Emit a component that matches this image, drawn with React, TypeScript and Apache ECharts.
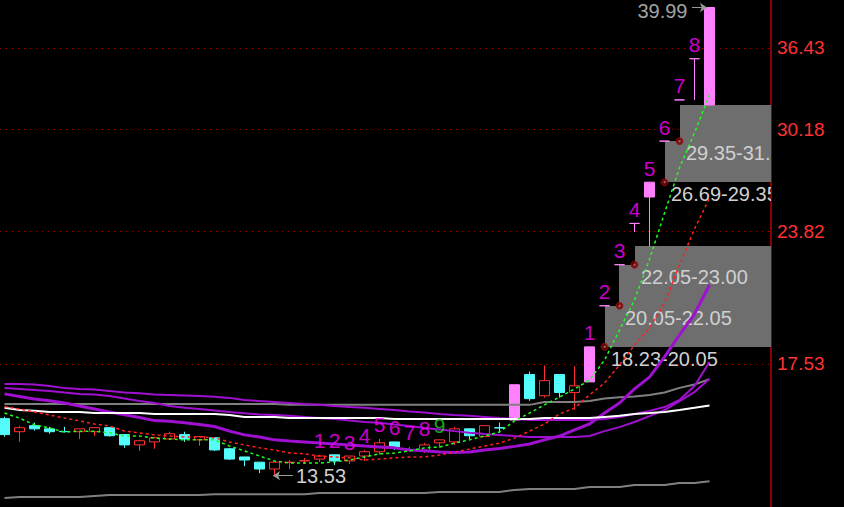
import React, { useEffect, useRef } from 'react';
import * as echarts from 'echarts';

// [open, close, low, high] per trading day
const candles: number[][] = [
  [15.44, 14.88, 14.81, 15.51], [14.98, 15.12, 14.63, 15.19], [15.19, 15.08, 15.02, 15.3],
  [15.08, 14.98, 14.91, 15.15], [14.99, 14.98, 14.95, 15.15], [14.98, 15.08, 14.73, 15.08],
  [14.98, 15.12, 14.84, 15.12], [15.12, 14.84, 14.81, 15.14], [14.88, 14.53, 14.43, 14.88],
  [14.53, 14.67, 14.33, 14.7], [14.63, 14.77, 14.4, 14.81], [14.73, 14.91, 14.7, 14.98],
  [14.88, 14.73, 14.63, 14.98], [14.7, 14.81, 14.5, 14.83], [14.77, 14.36, 14.33, 14.77],
  [14.4, 14.06, 14.03, 14.43], [14.13, 14.03, 13.83, 14.13], [13.96, 13.74, 13.61, 13.96],
  [13.74, 13.96, 13.53, 13.96], [13.95, 13.96, 13.74, 14.03], [14.0, 14.01, 13.9, 14.1],
  [14.06, 14.16, 13.96, 14.2], [14.2, 14.0, 13.87, 14.2], [14.0, 14.16, 13.9, 14.16],
  [14.16, 14.3, 14.0, 14.36], [14.3, 14.6, 14.2, 14.73], [14.63, 14.46, 14.36, 14.63],
  [14.36, 14.37, 14.3, 14.46], [14.33, 14.53, 14.26, 14.6], [14.6, 14.7, 14.43, 14.7],
  [14.63, 15.08, 14.53, 15.15], [15.08, 14.84, 14.73, 15.08], [14.81, 15.19, 14.81, 15.19],
  [15.12, 15.11, 14.95, 15.3], [15.39, 16.7, 15.39, 16.7], [17.1, 16.17, 16.09, 17.22],
  [16.28, 16.86, 16.21, 17.46], [17.1, 16.4, 16.21, 17.1], [16.4, 16.66, 15.76, 17.42],
  [16.81, 18.23, 16.81, 18.23], [20.05, 20.05, 20.05, 20.05], [22.05, 22.05, 22.05, 22.05],
  [24.26, 24.26, 23.78, 24.26], [25.79, 26.69, 23.0, 26.69], [29.35, 29.35, 29.35, 29.35],
  [32.29, 32.29, 32.29, 32.29], [35.52, 35.52, 32.29, 35.52], [31.91, 39.99, 31.91, 39.99],
];
const limitUpDays = [34, 39, 40, 41, 42, 43, 44, 45, 46, 47];

const ma5 = [15.64, 15.46, 15.22, 15.11, 14.97, 15.0, 15.0, 14.94, 14.83, 14.83, 14.76, 14.73, 14.7, 14.7, 14.7, 14.49, 14.33, 14.16, 14.0, 13.93, 13.93, 13.93, 13.97, 14.03, 14.13, 14.23, 14.26, 14.33, 14.43, 14.46, 14.59, 14.7, 14.83, 14.97, 15.36, 15.64, 15.94, 16.23, 16.54, 16.88, 17.68, 18.96, 20.32, 22.33, 24.85, 27.59, 29.92, 32.67];
const ma10 = [15.88, 15.79, 15.68, 15.57, 15.46, 15.36, 15.25, 15.18, 15.0, 14.94, 14.87, 14.83, 14.8, 14.8, 14.77, 14.63, 14.53, 14.43, 14.36, 14.26, 14.23, 14.16, 14.13, 14.1, 14.03, 14.06, 14.1, 14.13, 14.13, 14.19, 14.29, 14.39, 14.49, 14.59, 14.76, 15.0, 15.25, 15.61, 15.82, 16.31, 16.77, 17.48, 18.31, 19.04, 20.18, 22.03, 23.95, 25.73];
const whiteLine = [15.83, 15.75, 15.72, 15.68, 15.68, 15.68, 15.64, 15.64, 15.64, 15.64, 15.61, 15.61, 15.61, 15.61, 15.61, 15.57, 15.5, 15.5, 15.5, 15.46, 15.46, 15.46, 15.46, 15.46, 15.46, 15.46, 15.43, 15.43, 15.43, 15.43, 15.43, 15.43, 15.43, 15.43, 15.43, 15.43, 15.46, 15.46, 15.46, 15.46, 15.5, 15.54, 15.61, 15.64, 15.68, 15.75, 15.83, 15.92];
const grayUpper = [15.97, 15.97, 15.97, 15.97, 15.97, 15.97, 15.97, 15.97, 15.97, 15.97, 15.97, 15.97, 15.97, 15.97, 15.97, 15.97, 15.97, 15.97, 15.97, 15.94, 15.94, 15.94, 15.94, 15.94, 15.94, 15.94, 15.94, 15.94, 15.94, 15.94, 15.94, 15.94, 15.94, 15.94, 15.94, 15.94, 16.05, 16.05, 16.05, 16.08, 16.18, 16.22, 16.25, 16.31, 16.4, 16.58, 16.71, 16.92];
const grayLower = [12.85, 12.88, 12.88, 12.88, 12.88, 12.88, 12.91, 12.94, 12.94, 12.94, 12.94, 12.94, 12.94, 12.94, 12.96, 12.96, 12.96, 12.96, 12.96, 12.96, 12.96, 13.0, 13.0, 13.0, 13.0, 13.0, 13.0, 13.0, 13.0, 13.03, 13.03, 13.03, 13.03, 13.03, 13.09, 13.12, 13.12, 13.12, 13.12, 13.18, 13.18, 13.18, 13.24, 13.24, 13.24, 13.3, 13.3, 13.36];
const purpleA = [16.73, 16.73, 16.71, 16.65, 16.57, 16.54, 16.52, 16.46, 16.4, 16.37, 16.33, 16.31, 16.29, 16.27, 16.24, 16.2, 16.12, 16.08, 16.05, 16.01, 15.97, 15.94, 15.9, 15.86, 15.83, 15.79, 15.75, 15.7, 15.66, 15.61, 15.57, 15.54, 15.5, 15.46, 15.43, 15.39, 15.39, 15.39, 15.39, 15.39, 15.43, 15.5, 15.61, 15.72, 15.86, 16.12, 16.65, 17.6];
const purpleB = [16.57, 16.54, 16.5, 16.46, 16.4, 16.35, 16.33, 16.27, 16.18, 16.08, 16.01, 15.9, 15.83, 15.79, 15.73, 15.68, 15.63, 15.59, 15.57, 15.54, 15.5, 15.46, 15.43, 15.37, 15.32, 15.29, 15.23, 15.18, 15.11, 15.06, 15.0, 14.94, 14.9, 14.87, 14.83, 14.8, 14.8, 14.8, 14.8, 14.83, 15.0, 15.14, 15.32, 15.53, 15.75, 16.08, 16.42, 16.92];
const purpleC = [16.35, 16.25, 16.16, 16.09, 16.01, 15.9, 15.79, 15.68, 15.58, 15.48, 15.37, 15.35, 15.29, 15.23, 15.16, 15.0, 14.87, 14.8, 14.7, 14.66, 14.63, 14.59, 14.56, 14.53, 14.49, 14.46, 14.43, 14.36, 14.33, 14.29, 14.28, 14.29, 14.36, 14.41, 14.48, 14.56, 14.7, 14.83, 15.04, 15.25, 15.64, 16.01, 16.54, 17.0, 17.81, 18.74, 19.67, 21.04];

const priceTicks = [36.43, 30.18, 23.82, 17.53];

const tdDays = [21, 22, 23, 24, 25, 26, 27, 28, 29, 39, 40, 41, 42, 43, 44, 45, 46];
const tdCounts = [1, 2, 3, 4, 5, 6, 7, 8, 9, 1, 2, 3, 4, 5, 6, 7, 8];

const gapStartDays = [40, 41, 42, 44, 45];
const gapLows = [18.23, 20.05, 22.05, 26.69, 29.35];
const gapHighs = [20.05, 22.05, 23.0, 29.35, 31.91];

const highestDay = 47;
const highestPrice = 39.99;
const lowestDay = 18;
const lowestPrice = 13.53;

const RED = '#ff3232';
const CYAN = '#54fcfc';
const PINK = '#ff80ff';
const PURPLE = '#a010d0';
const FONT = '"Liberation Sans", Arial, sans-serif';

export default function App() {
  const ref = useRef<HTMLDivElement>(null);
  useEffect(() => {
    if (!ref.current) return;
    const chart = echarts.init(ref.current, undefined, { renderer: 'svg' });

    const candleData = candles.map((c, i) => {
      const item: any = { value: [i, c[0], c[1], c[2], c[3]] };
      if (limitUpDays.includes(i)) {
        item.itemStyle = { color: PINK, color0: PINK, borderColor: PINK, borderColor0: PINK };
      }
      return item;
    });

    const mkLine = (arr: number[], color: string, width: number, dashed: boolean, z: number) => ({
      type: 'line',
      data: arr.map((v, i) => [i, v]),
      showSymbol: false,
      symbol: 'none',
      silent: true,
      z,
      lineStyle: { color, width, type: dashed ? [3, 3] : 'solid' },
    });

    const option: any = {
      animation: false,
      backgroundColor: '#000000',
      textStyle: { fontFamily: FONT },
      grid: { left: 0, top: 0, width: 771, height: 507 },
      xAxis: { type: 'value', min: -0.3, max: 51.1, show: false },
      yAxis: {
        type: 'log',
        logBase: 10,
        min: 12.584,
        max: 40.69,
        position: 'right',
        axisLine: { show: true, onZero: false, lineStyle: { color: '#8b0000', width: 2 } },
        axisTick: { show: false },
        axisLabel: { show: false },
        splitLine: { show: false },
      },
      series: [
        {
          type: 'custom',
          clip: true,
          z: 1,
          silent: true,
          data: gapStartDays.map((d, k) => [d, gapLows[k], gapHighs[k]]),
          encode: { x: 0, y: [1, 2] },
          renderItem: (params: any, api: any) => {
            const start = api.value(0);
            const lo = api.value(1);
            const hi = api.value(2);
            const pLo = api.coord([start, lo]);
            const pHi = api.coord([start, hi]);
            const cs = params.coordSys;
            const right = cs.x + cs.width;
            const x0 = Math.round(pLo[0]);
            const yTop = Math.round(pHi[1]);
            const yBot = Math.round(pLo[1]);
            return {
              type: 'group',
              children: [
                {
                  type: 'rect',
                  shape: { x: x0, y: yTop, width: right - x0, height: yBot - yTop },
                  style: { fill: '#6e6e6e' },
                },
                {
                  type: 'text',
                  x: x0 + 6,
                  y: yBot + 2,
                  style: {
                    text: lo.toFixed(2) + '-' + hi.toFixed(2),
                    fill: '#d0d0d0',
                    font: '20px ' + FONT,
                    align: 'left',
                    verticalAlign: 'top',
                  },
                },
              ],
            };
          },
          markLine: {
            silent: true,
            symbol: 'none',
            z: 0,
            lineStyle: { color: '#a00000', width: 1, type: [1, 5] },
            label: {
              show: true,
              position: 'end',
              distance: 6,
              color: RED,
              fontSize: 19,
              fontFamily: FONT,
              formatter: (p: any) => Number(p.value).toFixed(2),
            },
            data: priceTicks.map((v) => ({ yAxis: v })),
          },
        },
        {
          type: 'candlestick',
          z: 2,
          barWidth: 11,
          silent: true,
          encode: { x: 0, y: [1, 2, 3, 4] },
          data: candleData,
          itemStyle: {
            color: 'rgba(0,0,0,0)',
            color0: CYAN,
            borderColor: RED,
            borderColor0: CYAN,
            borderWidth: 1,
          },
          markLine: {
            silent: true,
            z: 10,
            symbol: ['none', 'arrow'],
            symbolSize: 7,
            lineStyle: { color: '#9a9a9a', width: 1, type: 'solid' },
            label: { show: false },
            data: [
              [
                { coord: [highestDay - 1.17, highestPrice] },
                { coord: [highestDay - 0.17, highestPrice] },
              ],
              [
                {
                  coord: [lowestDay + 1.23, lowestPrice],
                  label: {
                    show: true,
                    position: 'start',
                    distance: 3,
                    color: '#cfcfcf',
                    fontSize: 20,
                    fontFamily: FONT,
                    formatter: lowestPrice.toFixed(2),
                  },
                },
                { coord: [lowestDay - 0.1, lowestPrice] },
              ],
            ],
          },
        },
        mkLine(grayLower, '#808080', 2, false, 3),
        mkLine(grayUpper, '#808080', 2, false, 3),
        mkLine(purpleA, PURPLE, 2, false, 3),
        mkLine(purpleB, PURPLE, 2, false, 3),
        mkLine(purpleC, PURPLE, 3, false, 3),
        mkLine(whiteLine, '#ffffff', 2, false, 3),
        mkLine(ma10, '#ff2020', 1.5, true, 4),
        mkLine(ma5, '#20ff20', 1.5, true, 4),
        {
          type: 'scatter',
          z: 7,
          silent: true,
          symbol: 'circle',
          symbolSize: 7,
          itemStyle: { color: '#780000', borderColor: '#a01010', borderWidth: 1 },
          data: gapStartDays.map((d, k) => [d, gapLows[k]]),
        },
        {
          type: 'scatter',
          z: 8,
          silent: true,
          symbol: 'circle',
          symbolSize: 2,
          itemStyle: { color: '#c08080' },
          data: gapStartDays.map((d, k) => [d, gapLows[k]]),
        },
        {
          type: 'scatter',
          z: 9,
          silent: true,
          symbolSize: 1,
          itemStyle: { color: 'rgba(0,0,0,0)' },
          label: {
            show: true,
            position: 'top',
            distance: 3,
            fontSize: 21,
            fontFamily: FONT,
            color: '#ff00ff',
            formatter: (p: any) => p.name,
          },
          data: tdDays.map((d, k) => ({
            name: String(tdCounts[k]),
            value: [d, candles[d][3]],
            label: { color: tdCounts[k] === 9 ? '#20d020' : '#ff00ff' },
          })),
        },
        {
          type: 'scatter',
          z: 10,
          silent: true,
          symbolSize: 1,
          itemStyle: { color: 'rgba(0,0,0,0)' },
          label: {
            show: true,
            position: 'left',
            distance: 4,
            offset: [0, 4],
            fontSize: 20,
            fontFamily: FONT,
            color: '#cfcfcf',
            formatter: highestPrice.toFixed(2),
          },
          data: [[highestDay - 1.17, highestPrice]],
        },
      ],
    };
    chart.setOption(option);
    return () => chart.dispose();
  }, []);
  return (
    <div
      ref={ref}
      style={{ position: 'fixed', left: 0, top: 0, width: 844, height: 507, background: '#000' }}
    />
  );
}
